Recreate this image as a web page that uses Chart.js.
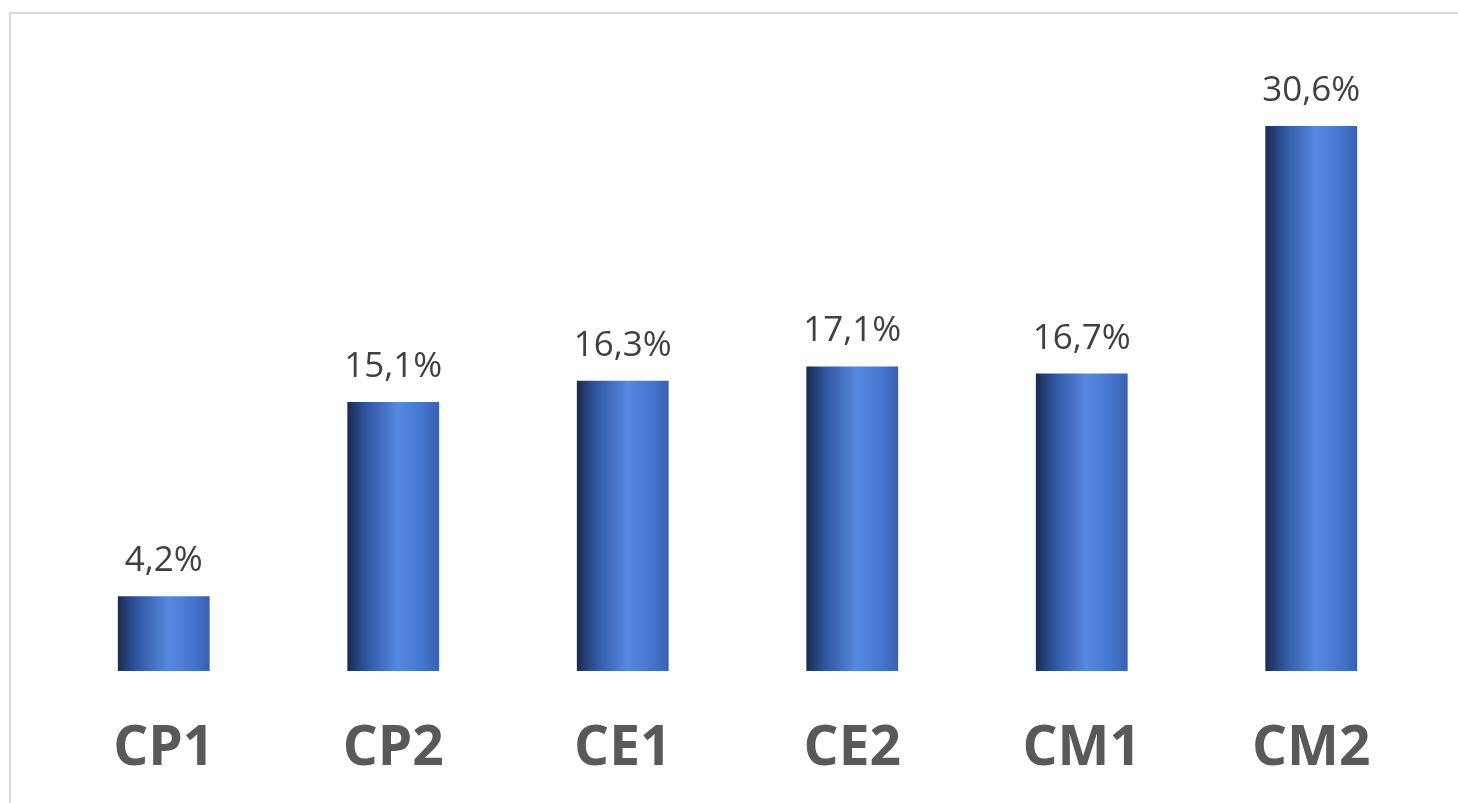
<!DOCTYPE html>
<html>
<head>
<meta charset="utf-8">
<script src="https://cdn.jsdelivr.net/npm/chart.js@4"></script>
<style>
  html, body { margin: 0; padding: 0; background: #fff; }
  #wrap { width: 1458px; height: 803px; }
</style>
</head>
<body>
<div id="wrap"><canvas id="chart"></canvas></div>
<script>
const categories = ['CP1', 'CP2', 'CE1', 'CE2', 'CM1', 'CM2'];
const values = [4.2, 15.1, 16.3, 17.1, 16.7, 30.6];

// frame around the whole chart, light grey
const framePlugin = {
    id: 'frame',
    beforeDraw(chart) {
        const ctx = chart.ctx;
        ctx.save();
        ctx.strokeStyle = '#d9d9d9';
        ctx.lineWidth = 2;
        ctx.strokeRect(10, 13, 2000, 2000);
        ctx.restore();
    }
};

// value labels above the bars
const labelPlugin = {
    id: 'valueLabels',
    afterDatasetsDraw(chart) {
        const ctx = chart.ctx;
        const meta = chart.getDatasetMeta(0);
        ctx.save();
        ctx.font = '35px "Open Sans"';
        ctx.fillStyle = '#404040';
        ctx.textAlign = 'center';
        ctx.textBaseline = 'alphabetic';
        meta.data.forEach(function(bar, i) {
            const txt = values[i].toFixed(1).replace('.', ',') + '%';
            ctx.fillText(txt, bar.x, bar.y - 25);
        });
        ctx.restore();
    }
};

function barGradient(context) {
    const chart = context.chart;
    const xScale = chart.scales.x;
    if (!chart.chartArea || !xScale) {
        return '#4472c4';
    }
    const cx = xScale.getPixelForValue(context.dataIndex);
    const half = (xScale.width / categories.length) * 0.4 / 2;
    const g = chart.ctx.createLinearGradient(cx - half, 0, cx + half, 0);
    g.addColorStop(0, '#1b2b4f');
    g.addColorStop(0.2, '#2f55a0');
    g.addColorStop(0.55, '#5689e0');
    g.addColorStop(0.8, '#4677cf');
    g.addColorStop(1, '#3761b3');
    return g;
}

const ctx = document.getElementById('chart').getContext('2d');
new Chart(ctx, {
    type: 'bar',
    data: {
        labels: categories,
        datasets: [{
            data: values,
            backgroundColor: barGradient,
            borderWidth: 0,
            barPercentage: 0.4,
            categoryPercentage: 1
        }]
    },
    options: {
        responsive: true,
        maintainAspectRatio: false,
        animation: false,
        layout: {
            padding: { left: 49, right: 32, top: 65.5, bottom: -24 }
        },
        plugins: {
            legend: { display: false },
            tooltip: { enabled: false }
        },
        scales: {
            x: {
                grid: { display: false, drawTicks: false },
                border: { display: false },
                ticks: {
                    padding: 45,
                    color: '#595959',
                    font: { family: 'Open Sans', size: 55, weight: 'bold', lineHeight: 1.2 }
                }
            },
            y: {
                display: false,
                min: 0,
                max: 34
            }
        }
    },
    plugins: [framePlugin, labelPlugin]
});
</script>
</body>
</html>
